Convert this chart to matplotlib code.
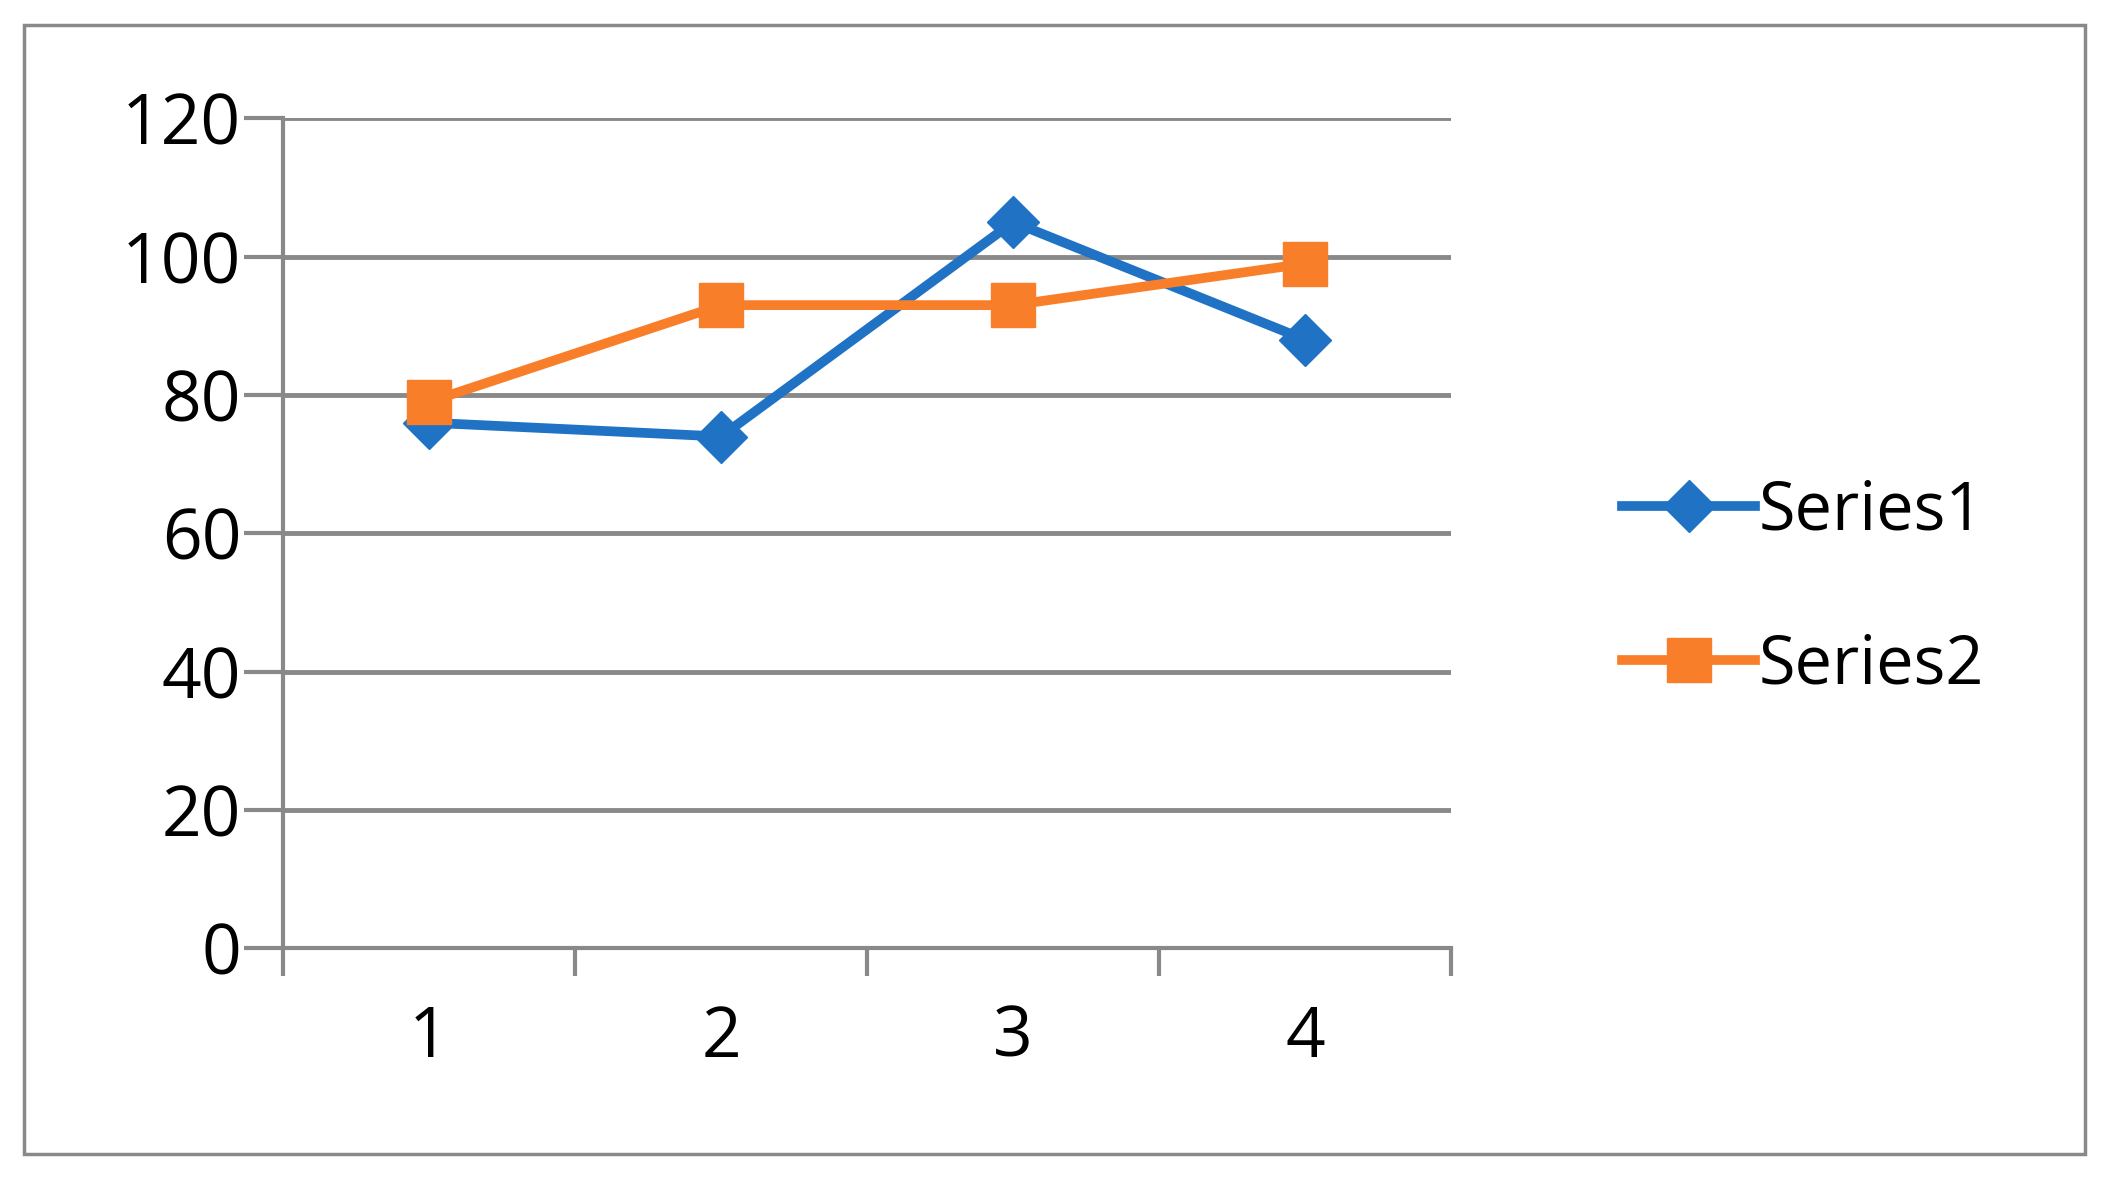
import matplotlib
matplotlib.use("Agg")
import matplotlib.pyplot as plt
from matplotlib.patches import Rectangle

categories = ["1", "2", "3", "4"]
series1 = [76, 74, 105, 88]
series2 = [79, 93, 93, 99]
yticks = [0, 20, 40, 60, 80, 100, 120]

plt.rcParams['font.family'] = ['Open Sans', 'DejaVu Sans']
fig = plt.figure(figsize=(21.11, 11.78), dpi=100)
fig.patches.append(Rectangle((0.0115, 0.02), 0.976, 0.959, transform=fig.transFigure,
                             fill=False, edgecolor='#898989', linewidth=2.5))
ax = fig.add_axes([0.134, 0.195, 0.5535, 0.7045])
x = [i + 0.5 for i in range(len(categories))]
ax.plot(x, series1, color='#1F72C4', lw=7, marker='D', markersize=26, label='Series1', zorder=3)
ax.plot(x, series2, color='#F97E2A', lw=7, marker='s', markersize=32, label='Series2', zorder=4)
ax.set_xlim(0, 4)
ax.set_ylim(0, 120)
ax.set_yticks(yticks)
ax.set_yticklabels([str(v) for v in yticks], fontsize=50)
ax.set_xticks(x)
ax.set_xticklabels(categories, fontsize=50)
ax.set_xticks([0, 1, 2, 3, 4], minor=True)
ax.tick_params(axis='x', which='major', length=0, pad=40)
ax.tick_params(axis='x', which='minor', length=20, width=3, color='#898989')
ax.tick_params(axis='y', length=28, width=3, color='#898989', pad=2)
ax.grid(axis='y', color='#898989', lw=3.5)
for s in ['top', 'right']:
    ax.spines[s].set_visible(False)
for s in ['left', 'bottom']:
    ax.spines[s].set_color('#898989')
    ax.spines[s].set_linewidth(3)
ax.set_axisbelow(True)
fig.legend(loc='center left', bbox_to_anchor=(0.74, 0.50), frameon=False, fontsize=48,
           handlelength=2.0, labelspacing=1.3, handletextpad=0.05)
fig.savefig("out.png", dpi=100)
